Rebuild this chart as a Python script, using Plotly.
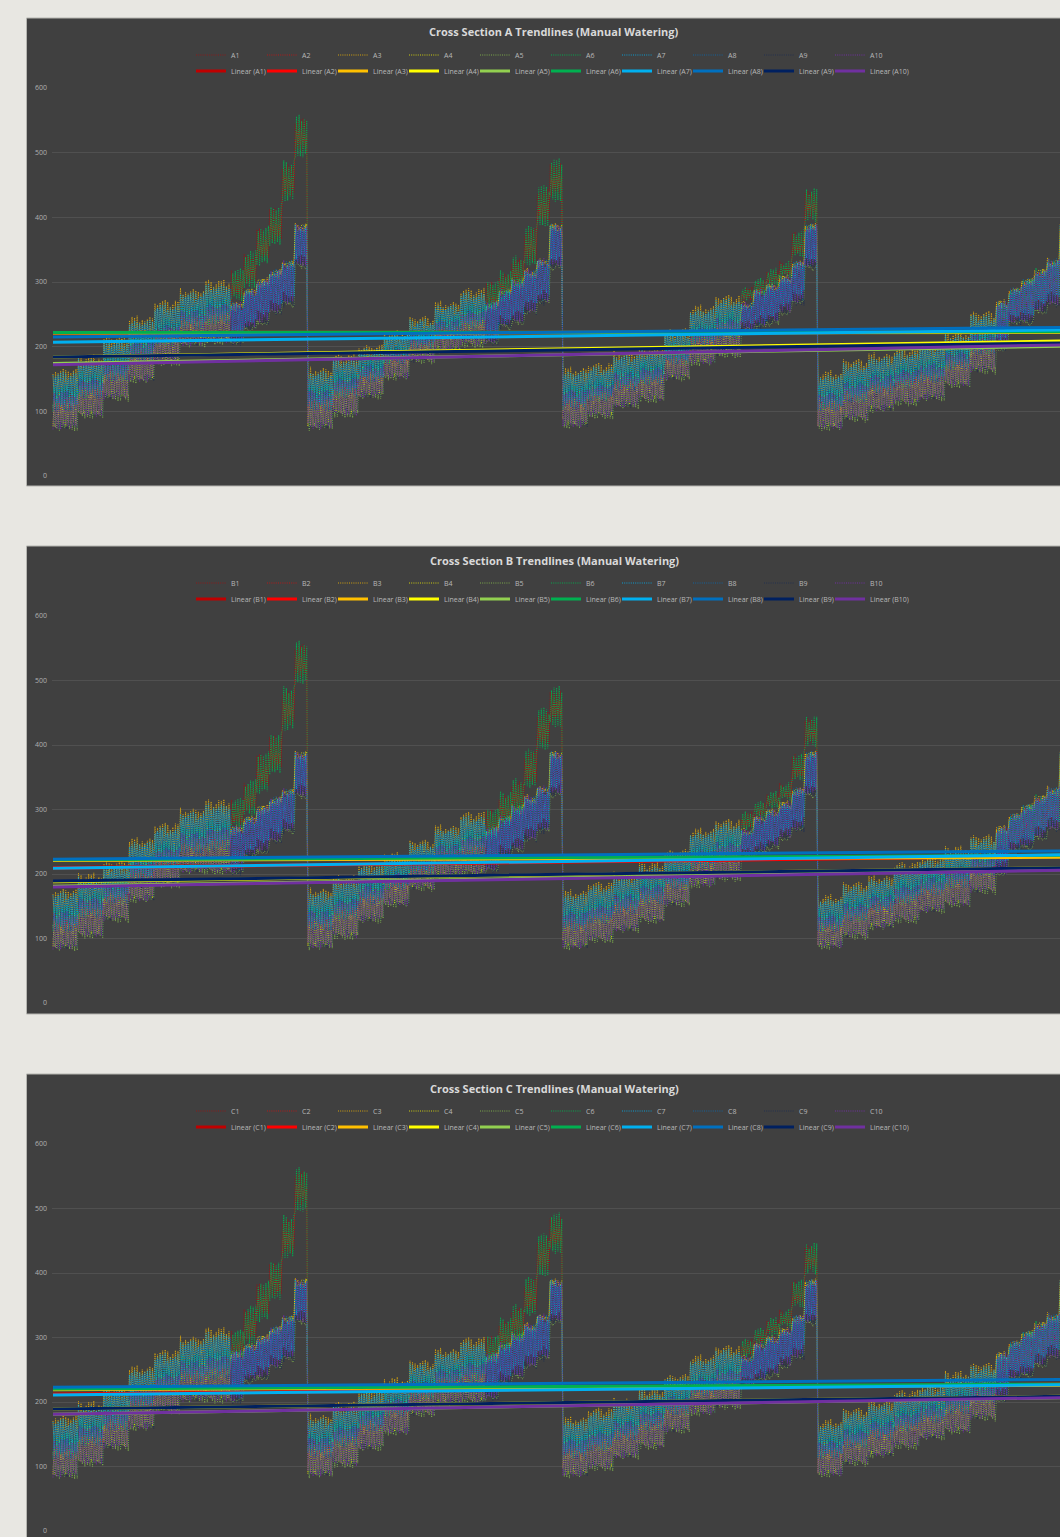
import plotly.graph_objects as go

W, H = 1060, 1537
COLORS = ["#C00000", "#FF0000", "#FFC000", "#FFFF00", "#92D050",
          "#00B050", "#00B0F0", "#0070C0", "#002060", "#7030A0"]
SECTIONS = ["A", "B", "C"]
TICKS = [0, 100, 200, 300, 400, 500, 600]

# Envelope per stage (7 paired stages then 6 single stages), per panel and cycle.
A1_TOP = [164, 184, 213, 244, 269, 287, 300, 267, 287, 303, 318, 331, 388]
A1_BOT = [71, 91, 117, 145, 172, 200, 205, 205, 226, 236, 252, 264, 323]
A1_SPK_HI = [318, 346, 385, 416, 485, 555]
A1_SPK_LO = [268, 287, 323, 352, 422, 491]
A2_TOP = [165, 185, 200, 222, 244, 267, 287, 269, 287, 303, 318, 334, 388]
A2_BOT = [72, 92, 120, 150, 175, 192, 200, 205, 230, 236, 252, 267, 321]
A2_SPK_HI = [300, 315, 337, 385, 447, 488]
A2_SPK_LO = [252, 267, 287, 321, 383, 422]
A3_TOP = [165, 172, 190, 197, 225, 261, 277, 267, 287, 295, 308, 331, 388]
A3_BOT = [75, 90, 105, 115, 148, 172, 184, 225, 230, 236, 252, 267, 321]
A3_SPK_HI = [290, 303, 318, 331, 377, 443]
A3_SPK_LO = [268, 277, 292, 303, 334, 391]
A4_TOP = [160, 178, 187, 195, 205, 221, 252, 269, 289, 303, 318, 334, 388]
A4_BOT = [72, 85, 100, 110, 117, 138, 159, 195, 236, 236, 253, 264, 321]
A4_SPK_HI = [269, 289, 303, 318, 334, 388]
A4_SPK_LO = [230, 240, 245, 258, 270, 321]

B1_TOP = [175, 198, 217, 253, 276, 299, 312, 273, 287, 304, 318, 330, 388]
B1_BOT = [82, 102, 126, 157, 180, 201, 201, 201, 226, 234, 250, 265, 319]
B1_SPK_HI = [315, 343, 388, 416, 488, 558]
B1_SPK_LO = [268, 288, 322, 351, 420, 493]
B2_TOP = [175, 195, 215, 230, 250, 273, 293, 272, 288, 305, 320, 334, 388]
B2_BOT = [84, 100, 125, 150, 175, 195, 198, 205, 226, 236, 252, 265, 321]
B2_SPK_HI = [300, 325, 345, 392, 455, 488]
B2_SPK_LO = [250, 270, 290, 330, 390, 425]
B3_TOP = [172, 185, 200, 215, 235, 268, 282, 268, 288, 298, 310, 332, 388]
B3_BOT = [84, 95, 110, 125, 150, 180, 190, 225, 232, 240, 255, 268, 321]
B3_SPK_HI = [295, 310, 325, 340, 385, 443]
B3_SPK_LO = [265, 285, 300, 310, 340, 395]
B4_TOP = [165, 185, 195, 215, 225, 240, 258, 272, 292, 306, 320, 333, 388]
B4_BOT = [85, 100, 115, 125, 140, 150, 170, 200, 236, 240, 255, 268, 321]
B4_SPK_HI = [272, 292, 306, 320, 333, 388]
B4_SPK_LO = [235, 240, 248, 258, 272, 321]

C1_TOP = [177, 198, 222, 253, 278, 299, 312, 278, 288, 301, 316, 332, 389]
C1_BOT = [82, 102, 126, 157, 183, 200, 200, 200, 231, 237, 253, 265, 322]
C1_SPK_HI = [309, 347, 386, 417, 487, 560]
C1_SPK_LO = [268, 285, 322, 353, 420, 493]
C2_TOP = [178, 197, 218, 235, 262, 280, 297, 275, 290, 305, 320, 334, 388]
C2_BOT = [84, 100, 125, 150, 178, 195, 198, 205, 228, 238, 254, 266, 322]
C2_SPK_HI = [302, 328, 348, 392, 458, 490]
C2_SPK_LO = [255, 272, 292, 330, 392, 428]
C3_TOP = [174, 188, 203, 218, 240, 270, 285, 270, 290, 300, 312, 333, 388]
C3_BOT = [84, 95, 112, 128, 152, 180, 190, 225, 232, 240, 255, 268, 321]
C3_SPK_HI = [296, 312, 328, 342, 388, 445]
C3_SPK_LO = [266, 286, 300, 312, 342, 396]
C4_TOP = [170, 188, 200, 215, 225, 245, 258, 275, 293, 308, 322, 335, 388]
C4_BOT = [85, 102, 115, 128, 142, 152, 172, 202, 236, 240, 256, 268, 322]
C4_SPK_HI = [275, 293, 308, 322, 335, 388]
C4_SPK_LO = [238, 242, 248, 260, 272, 322]

# Where each sensor sits inside the stage envelope (lower, upper share), by eye.
EARLY_LOW = [0.32, 0.36, 0.55, 0.05, 0.00, 0.28, 0.42, 0.30, 0.05, 0.00]
EARLY_HIGH = [0.58, 0.56, 1.00, 0.62, 0.48, 0.72, 0.97, 0.88, 0.40, 0.62]
LATE_LOW = [0.30, 0.35, 0.78, 0.88, 0.00, 0.30, 0.20, 0.05, 0.00, 0.00]
LATE_HIGH = [0.60, 0.55, 1.00, 1.00, 0.12, 0.70, 1.00, 1.00, 0.35, 1.00]
SPIKE_SENSORS = [0, 1, 5]
SPIKE_LOW = [0.12, 0.32, 0.00]
SPIKE_HIGH = [0.90, 0.72, 1.00]
SENSOR_OPACITY = [0.6, 0.6, 0.85, 0.8, 0.8, 0.9, 0.9, 0.8, 0.6, 1.0]
SENSOR_WIDTH = [1.0, 1.0, 0.9, 0.9, 0.9, 1.1, 0.9, 0.9, 0.8, 1.0]
# Peak irregularity seen along the stages.
PEAK_NOTCH = [0, -7, -2, -11, 3, -5, -14, -1, -8, 2, -12, -3, -6, -16, 0, -9, -4]
DIP_NOTCH = [0, 5, 9, 1, 12, 3, 7, 14, 2, 6, 10, 0, 8, 4, 13, 2, 6]
SENSOR_SHIFT = [3, -3, 2, 0, -2, 2, -1, 1, -3, 1]

# Trendline ends (left end, right end beyond the crop).
A_TREND_START = [221, 222, 221, 184, 174, 222, 207, 215, 184, 172]
A_TREND_END = [223, 223, 222, 209, 201, 223, 226, 230, 206, 203]
B_TREND_START = [210, 209, 221, 188, 181, 222, 209, 223, 189, 180]
B_TREND_END = [228, 228, 226, 210, 207, 229, 230, 236, 210, 206]
C_TREND_START = [212, 212, 219, 189, 181, 220, 211, 223, 189, 181]
C_TREND_END = [228, 228, 226, 209, 207, 228, 227, 235, 209, 207]

TABLES = globals()
STAGE_PTS = 10      # samples per stage
STAGES = 20
N_CYCLES = 4

# page geometry
PANEL = {"A": (18, 486), "B": (546, 1014), "C": (1074, 1538)}
Y600 = {"A": 88, "B": 616, "C": 1144}
Y0 = {"A": 476, "B": 1003, "C": 1531}
LEG_ROW1 = {"A": 55, "B": 583, "C": 1111}
LEG_ROW2 = {"A": 71, "B": 599, "C": 1127}
TITLE_Y = {"A": 32, "B": 560, "C": 1088}


def sensor_values(sec, s):
    xs, ys = [], []
    idx = 0
    n = 0
    for c in range(1, N_CYCLES + 1):
        top = TABLES[f"{sec}{c}_TOP"]
        bot = TABLES[f"{sec}{c}_BOT"]
        shi = TABLES[f"{sec}{c}_SPK_HI"]
        slo = TABLES[f"{sec}{c}_SPK_LO"]
        for b in range(STAGES):
            k = b // 2 if b < 14 else b - 7
            t, m = top[k], bot[k]
            low_share = EARLY_LOW[s] if b < 14 else LATE_LOW[s]
            high_share = EARLY_HIGH[s] if b < 14 else LATE_HIGH[s]
            lo = m + (t - m) * low_share
            hi = m + (t - m) * high_share
            if b >= 14 and s in SPIKE_SENSORS:
                j = SPIKE_SENSORS.index(s)
                span = shi[b - 14] - slo[b - 14]
                lo = slo[b - 14] + span * SPIKE_LOW[j]
                hi = slo[b - 14] + span * SPIKE_HIGH[j]
            for p in range(STAGE_PTS):
                up = (p + s) % 2 == 0
                if up:
                    v = hi + PEAK_NOTCH[(n + 3 * s) % len(PEAK_NOTCH)] * 0.6
                else:
                    v = lo + DIP_NOTCH[(n + 5 * s) % len(DIP_NOTCH)] * 0.6
                xs.append(idx)
                ys.append(round(v + SENSOR_SHIFT[s], 1))
                idx += 1
                n += 1
    return xs, ys


fig = go.Figure()
shapes, annotations = [], []
layout_extra = {}
x_last = STAGE_PTS * STAGES * N_CYCLES - 1
PX_PER_IDX = 255 / (STAGE_PTS * STAGES)
x_min = -1 * (53 - 52) / PX_PER_IDX
x_max = (W - 53) / PX_PER_IDX

for pi, sec in enumerate(SECTIONS):
    suf = "" if pi == 0 else str(pi + 1)
    xa, ya = f"x{suf}", f"y{suf}"
    leg1 = "legend" if pi == 0 else f"legend{2 * pi + 1}"
    leg2 = f"legend{2 * pi + 2}"
    for s in range(10):
        xs, ys = sensor_values(sec, s)
        fig.add_trace(go.Scatter(x=xs, y=ys, mode="lines", name=f"{sec}{s + 1}", xaxis=xa, yaxis=ya,
                                 legend=leg1, hoverinfo="skip", opacity=SENSOR_OPACITY[s],
                                 line=dict(color=COLORS[s], width=SENSOR_WIDTH[s], dash="1px,1.2px")))
    starts = TABLES[f"{sec}_TREND_START"]
    ends = TABLES[f"{sec}_TREND_END"]
    for s in range(10):
        fig.add_trace(go.Scatter(x=[0, x_last], y=[starts[s], ends[s]], mode="lines",
                                 name=f"Linear ({sec}{s + 1})", xaxis=xa, yaxis=ya, legend=leg2,
                                 hoverinfo="skip", line=dict(color=COLORS[s], width=3)))
    # Empty last legend slot: keeps the row wide enough for the final "Linear (x10)" label.
    fig.add_trace(go.Scatter(x=[None], y=[None], mode="lines", name="\u00a0", xaxis=xa, yaxis=ya,
                             legend=leg2, hoverinfo="skip", showlegend=True,
                             line=dict(color="rgba(0,0,0,0)", width=0)))
    top_px, bot_px = PANEL[sec]
    shapes.append(dict(type="rect", xref="paper", yref="paper", layer="below",
                       x0=26.5 / W, x1=1.01, y0=1 - bot_px / H, y1=1 - top_px / H,
                       fillcolor="#404040", line=dict(color="#B5B5B0", width=1)))
    annotations.append(dict(text=f"<b>Cross Section {sec} Trendlines (Manual Watering)</b>",
                            xref="paper", yref="paper", x=554 / W, y=1 - TITLE_Y[sec] / H,
                            showarrow=False, xanchor="center", yanchor="middle",
                            font=dict(family="Open Sans", size=11, color="#D9D9D9")))
    layout_extra["xaxis" + suf] = dict(domain=[52 / W, 1], range=[x_min, x_max], visible=False,
                                       anchor=ya)
    layout_extra["yaxis" + suf] = dict(domain=[1 - Y0[sec] / H, 1 - Y600[sec] / H], range=[0, 600],
                                       anchor=xa, tickvals=TICKS, ticks="", showline=False,
                                       zeroline=False, gridcolor="#505050", gridwidth=1,
                                       ticklabelstandoff=4,
                                       tickfont=dict(family="Open Sans", size=7, color="#B0B0B0"))
    for leg, row in ((leg1, LEG_ROW1), (leg2, LEG_ROW2)):
        layout_extra[leg] = dict(orientation="h", x=191 / W, y=1 - row[sec] / H, xanchor="left",
                                 yanchor="middle", bgcolor="rgba(0,0,0,0)", borderwidth=0,
                                 entrywidth=26, entrywidthmode="pixels", itemwidth=30,
                                 tracegroupgap=0, itemclick=False, itemdoubleclick=False,
                                 font=dict(family="Open Sans", size=7, color="#B8B8B8"))

fig.update_layout(width=W, height=H, autosize=False,
                  margin=dict(l=0, r=0, t=0, b=0, pad=0, autoexpand=False),
                  paper_bgcolor="#E8E7E2", plot_bgcolor="rgba(0,0,0,0)", showlegend=True,
                  shapes=shapes, annotations=annotations, **layout_extra)

fig.write_html("out.html", config={"displayModeBar": False},
               post_script="document.body.style.margin='0';document.documentElement.style.overflow='hidden';")
